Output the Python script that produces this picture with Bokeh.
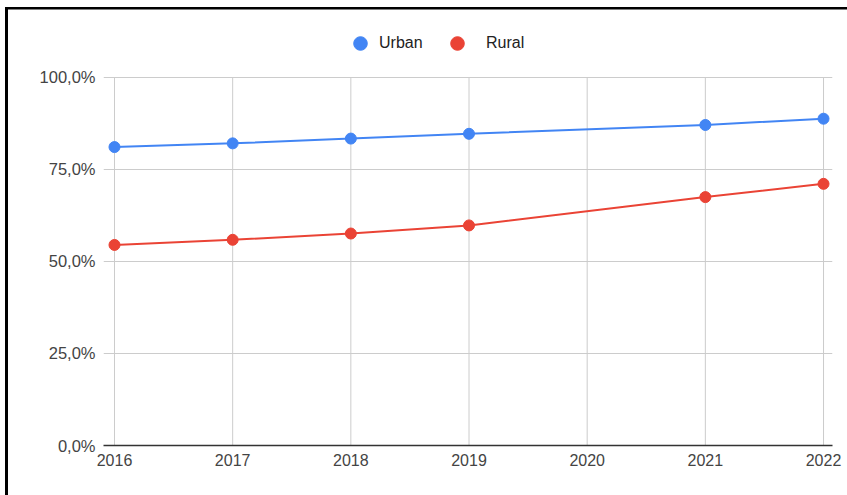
import math
from bokeh.plotting import figure
from bokeh.models import FixedTicker, Legend, LegendItem, ColumnDataSource, InlineStyleSheet
from bokeh.embed import file_html
from bokeh.resources import INLINE

years = [2016, 2017, 2018, 2019, 2021, 2022]
urban = [81.1, 82.1, 83.4, 84.7, 87.1, 88.8]
rural = [54.5, 55.9, 57.6, 59.8, 67.5, 71.1]
x_ticks = [2016, 2017, 2018, 2019, 2020, 2021, 2022]
y_ticks = [0, 25, 50, 75, 100]
y_labels = ["0,0%", "25,0%", "50,0%", "75,0%", "100,0%"]
series_names = ["Urban", "Rural"]
colors = ["#4285F4", "#EA4335"]

FONT = "Liberation Sans"

p = figure(width=847, height=495, output_backend="svg", toolbar_location=None,
           x_range=(2015.907, 2022.076), y_range=(0, 114.13),
           min_border_left=103, min_border_right=15, min_border_top=25, min_border_bottom=50)
p.outline_line_color = None
p.border_fill_color = None
p.background_fill_color = None
# left and top black edges of the screenshot, painted on the figure's own host only
p.stylesheets = [InlineStyleSheet(css=":host { background-color: white; "
                                      "box-shadow: inset 5px 7px 0px 0px white, "
                                      "inset 8px 9.5px 0px 0px black; }")]

p.xaxis.ticker = FixedTicker(ticks=x_ticks)
p.yaxis.ticker = FixedTicker(ticks=y_ticks)
p.yaxis.major_label_overrides = {t: l for t, l in zip(y_ticks, y_labels)}
for ax in (p.xaxis, p.yaxis):
    ax.major_tick_line_color = None
    ax.minor_tick_line_color = None
    ax.major_tick_out = 0
    ax.major_tick_in = 0
    ax.major_label_text_font = FONT
    ax.major_label_text_color = "#444444"
    ax.major_label_text_font_size = "16px"
    ax.major_label_standoff = 8
p.yaxis.major_label_text_font_size = "16.5px"
p.yaxis.axis_line_color = None
p.xaxis.axis_line_color = "#333333"
p.xaxis.axis_line_width = 1.5
p.xgrid.grid_line_color = None
p.ygrid.grid_line_color = "#cccccc"

# vertical grid lines limited to the 0..100 band
p.segment(x0=x_ticks, x1=x_ticks, y0=[y_ticks[0]] * len(x_ticks), y1=[y_ticks[-1]] * len(x_ticks),
          line_color="#cccccc", line_width=1)

legend_offsets = [(240, 385, 2), (337, 385, 12)]
for name, vals, c, (lx, ly, standoff) in zip(series_names, [urban, rural], colors, legend_offsets):
    src = ColumnDataSource(dict(x=years, y=vals))
    p.line("x", "y", source=src, line_color=c, line_width=2)
    p.scatter("x", "y", source=src, size=11, fill_color=c, line_color=c)
    dummy = p.scatter(x=[math.nan], y=[math.nan], size=14, fill_color=c, line_color=c)
    lg = Legend(items=[LegendItem(label=name, renderers=[dummy])], location=(lx, ly),
                glyph_width=34, glyph_height=34, label_height=34, label_standoff=standoff,
                padding=0, margin=0, border_line_color=None, background_fill_alpha=0,
                label_text_font=FONT, label_text_font_size="16px", label_text_color="#222222")
    p.add_layout(lg, "center")

open("out.html", "w").write(file_html(p, INLINE))
